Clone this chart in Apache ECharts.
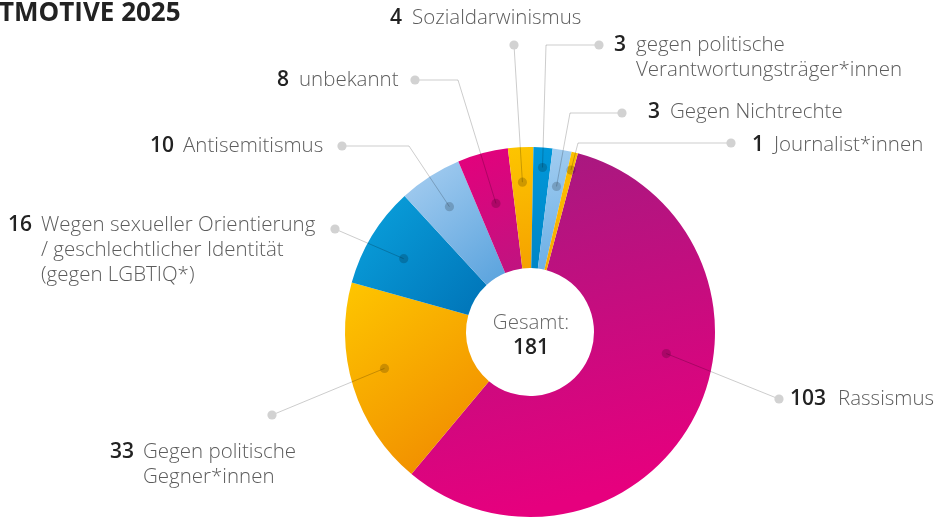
<!DOCTYPE html>
<html>
<head>
<meta charset="utf-8">
<script src="https://cdn.jsdelivr.net/npm/echarts@6/dist/echarts.min.js"></script>
<style>
  html, body { margin: 0; padding: 0; background: #fff; }
  #main { width: 938px; height: 518px; }
</style>
</head>
<body>
<div id="main"></div>
<script>
// Daten
const categories = [
  'Rassismus',
  'Gegen politische\nGegner*innen',
  'Wegen sexueller Orientierung\n/ geschlechtlicher Identität\n(gegen LGBTIQ*)',
  'Antisemitismus',
  'unbekannt',
  'Sozialdarwinismus',
  'gegen politische\nVerantwortungsträger*innen',
  'Gegen Nichtrechte',
  'Journalist*innen'
];
const values = [103, 33, 16, 10, 8, 4, 3, 3, 1];
const titleText = 'TMOTIVE 2025';
const totalLabel = 'Gesamt:';

// Farben (Verlauf je Segment)
const gradients = [
  ['#a21b80', '#e6007e'],
  ['#fec600', '#ef8500'],
  ['#0aa3de', '#0073b7'],
  ['#a9cff1', '#58a2dd'],
  ['#e5007c', '#bf1480'],
  ['#fdc500', '#f5a200'],
  ['#0098da', '#0085c6'],
  ['#a3cdf0', '#69aee5'],
  ['#fdc200', '#f6a800']
];

// Layout der Beschriftungen (Pixel) und Punkte im Segment
const labelPos = [[790, 399], [110, 452], [8, 225], [150, 146], [277, 80], [390, 18], [614, 45], [648, 112], [752, 145]];
const dotFrac = [0.41, 0.55, 0.46, 0.5, 0.5, 0.5, 0.55, 0.55, 0.6];
const dotR = [138, 150, 146, 149, 133, 150, 165, 148, 167];
const bends = [[], [], [], [[409, 146]], [[458, 80]], [], [[546, 45]], [[570, 113]], [[578, 143]]];
const ends = [[779, 399], [272, 415], [335, 229], [342, 146], [415, 80], [514, 45], [599, 45], [622, 113], [731, 143]];

const CENTER = [530, 332];
const R_OUT = 185;
const R_IN = 64;
const START = 75;
const FONT = '"Open Sans", "Noto Sans", sans-serif';
const TXT = 20.5;
const NUM = 21;

const total = values.reduce((a, b) => a + b, 0);
const starts = [];
values.reduce((acc, v) => { starts.push(acc); return acc + v; }, 0);

const pieData = values.map((v, i) => ({
  name: categories[i],
  value: v,
  itemStyle: {
    color: {
      type: 'linear', x: 0, y: 0, x2: i === 0 ? 0.3 : 1, y2: 1,
      colorStops: [{ offset: 0, color: gradients[i][0] }, { offset: 1, color: gradients[i][1] }]
    }
  }
}));

const dotData = values.map((v, i) => [dotR[i], starts[i] + dotFrac[i] * v, i]);

const numW = { 1: 22, 2: 33, 3: 48 };
const rich = {
  t: { fontFamily: FONT, fontSize: TXT, fontWeight: 300, color: '#5c5c5c', lineHeight: 25 }
};
[1, 2, 3].forEach((d) => {
  rich['n' + d] = { fontFamily: FONT, fontSize: NUM, fontWeight: 600, color: '#222', lineHeight: 25, width: numW[d] };
  rich['i' + d] = { fontFamily: FONT, fontSize: TXT, lineHeight: 25, width: numW[d] };
});

const chart = echarts.init(document.getElementById('main'), null, { renderer: 'canvas' });

const option = {
  backgroundColor: '#fff',
  animation: false,
  polar: { center: CENTER, radius: R_OUT },
  angleAxis: { type: 'value', min: 0, max: total, startAngle: START, clockwise: true, show: false },
  radiusAxis: { type: 'value', min: 0, max: R_OUT, show: false },
  graphic: [
    {
      type: 'text', x: -1, y: 1, z: 10,
      style: { text: titleText, fill: '#222', font: 'bold 26px "Open Sans"' }
    },
    {
      type: 'text', x: 531, y: 336, z: 10,
      style: {
        text: '{a|' + totalLabel + '}\n{b|' + total + '}',
        align: 'center', verticalAlign: 'middle',
        rich: {
          a: { fontFamily: FONT, fontSize: TXT, fontWeight: 300, fill: '#666', lineHeight: 25, align: 'center' },
          b: { fontFamily: FONT, fontSize: NUM, fontWeight: 600, fill: '#222', lineHeight: 25, align: 'center' }
        }
      }
    }
  ],
  series: [
    {
      type: 'pie',
      center: CENTER,
      radius: [R_IN, R_OUT],
      startAngle: START,
      clockwise: true,
      avoidLabelOverlap: false,
      silent: true,
      itemStyle: { borderWidth: 0 },
      label: {
        show: true,
        position: 'outside',
        formatter: function (p) {
          const i = p.dataIndex;
          const d = String(values[i]).length;
          const lines = categories[i].split('\n');
          let s = '{n' + d + '|' + values[i] + '}{t|' + lines[0] + '}';
          for (let k = 1; k < lines.length; k++) {
            s += '\n{i' + d + '| }{t|' + lines[k] + '}';
          }
          return s;
        },
        rich: rich
      },
      labelLine: { show: false },
      labelLayout: function (p) {
        const pos = labelPos[p.dataIndex];
        return { x: pos[0], y: pos[1] - 12.5, align: 'left', verticalAlign: 'top' };
      },
      data: pieData
    },
    {
      type: 'custom',
      coordinateSystem: 'polar',
      encode: { radius: 0, angle: 1 },
      silent: true,
      z: 5,
      clip: false,
      renderItem: function (params, api) {
        const i = api.value(2);
        const p0 = api.coord([api.value(0), api.value(1)]);
        const pts = [p0].concat(bends[i], [ends[i]]);
        return {
          type: 'group',
          children: [
            { type: 'polyline', shape: { points: pts }, style: { stroke: 'rgba(0,0,0,0.2)', lineWidth: 1, fill: null } },
            { type: 'circle', shape: { cx: p0[0], cy: p0[1], r: 4.6 }, style: { fill: 'rgba(0,0,0,0.18)' } },
            { type: 'circle', shape: { cx: ends[i][0], cy: ends[i][1], r: 4.6 }, style: { fill: '#d2d2d2' } }
          ]
        };
      },
      data: dotData
    }
  ]
};

chart.setOption(option);
</script>
</body>
</html>
